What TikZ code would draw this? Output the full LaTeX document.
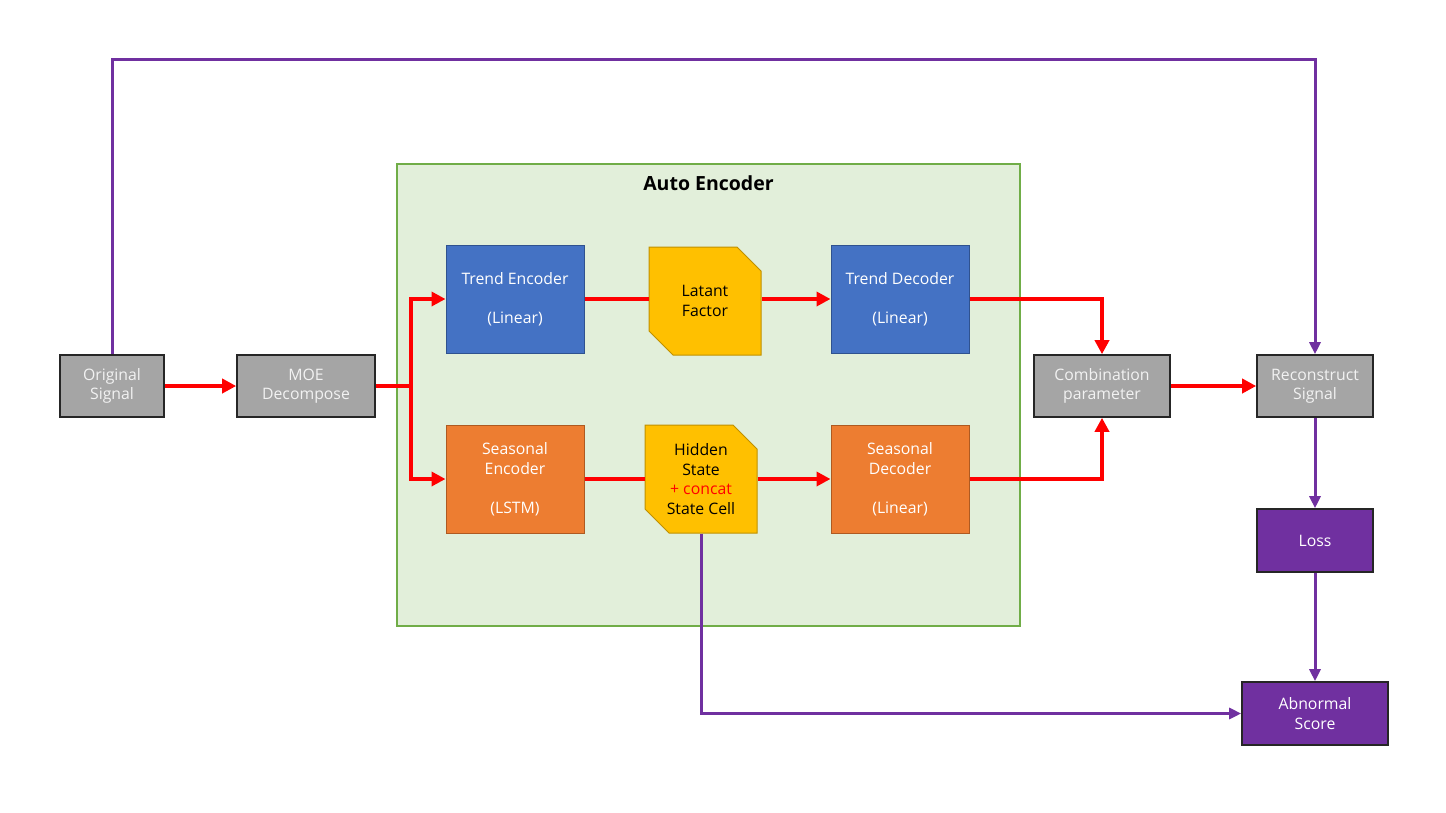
\documentclass[tikz,border=0pt]{standalone}
\usepackage{fontspec}
\setmainfont{Open Sans}
\usetikzlibrary{arrows.meta,shapes.misc,calc}
\definecolor{aefill}{HTML}{E2EFDA}
\definecolor{aeline}{HTML}{70AD47}
\definecolor{grayfill}{HTML}{A5A5A5}
\definecolor{grayline}{HTML}{262626}
\definecolor{bluefill}{HTML}{4472C4}
\definecolor{blueline}{HTML}{2F528F}
\definecolor{orangefill}{HTML}{ED7D31}
\definecolor{orangeline}{HTML}{AE5A21}
\definecolor{yellowfill}{HTML}{FFC000}
\definecolor{yellowline}{HTML}{BF9000}
\definecolor{purplefill}{HTML}{7030A0}
\definecolor{flowred}{HTML}{FF0000}
\definecolor{lighttext}{HTML}{F2F2F2}
\newcommand{\boxfont}{\fontsize{15.8pt}{19.5pt}\selectfont}
\begin{document}
\begin{tikzpicture}[x=1pt,y=-1pt,
  base/.style={rectangle,inner sep=0pt,align=center,font=\boxfont},
  graybox/.style={base,fill=grayfill,draw=grayline,line width=1.6pt,text=lighttext},
  bluebox/.style={base,fill=bluefill,draw=blueline,line width=1pt,text=white,
    minimum width=138pt,minimum height=108pt},
  orangebox/.style={base,fill=orangefill,draw=orangeline,line width=1pt,text=white,
    minimum width=138pt,minimum height=108pt},
  purplebox/.style={base,fill=purplefill,draw=grayline,line width=1.6pt,text=white},
  snipbox/.style={chamfered rectangle,chamfered rectangle corners={north east,south west},
    chamfered rectangle xsep=12pt,chamfered rectangle ysep=12pt,
    inner sep=0pt,align=center,font=\boxfont,fill=yellowfill,draw=yellowline,line width=1pt,
    minimum width=112pt,minimum height=108pt},
  redflow/.style={draw=flowred,line width=4pt,-{Triangle[length=14pt,width=14pt]}},
  redline/.style={draw=flowred,line width=4pt},
  purpleflow/.style={draw=purplefill,line width=3pt,-{Triangle[length=12pt,width=11pt]}}
]
\useasboundingbox (0,0) rectangle (1446,812);

% Auto encoder frame
\node[rectangle,fill=aefill,draw=aeline,line width=1.3pt,minimum width=623pt,minimum height=462pt,inner sep=0pt]
  (ae) at (708.5,395) {};
\node[font=\fontsize{19.5pt}{22pt}\selectfont\bfseries,anchor=north] (aetitle) at ($(ae.north)+(0,9)$) {Auto Encoder};

% Outer blocks
\node[graybox,minimum width=104pt,minimum height=62pt] (orig) at (112,386) {Original\\Signal};
\node[graybox,minimum width=138pt,minimum height=62pt] (moe) at (306,386) {MOE\\Decompose};
\node[graybox,minimum width=136pt,minimum height=62pt] (comb) at (1102,386) {Combination\\parameter};
\node[graybox,minimum width=116pt,minimum height=62pt] (recon) at (1315,386) {Reconstruct\\Signal};
\node[purplebox,minimum width=116pt,minimum height=63pt] (loss) at (1315,540.5) {Loss};
\node[purplebox,minimum width=146pt,minimum height=63pt] (abn) at (1315,713.5) {Abnormal\\Score};

% Encoder / decoder blocks
\node[bluebox] (te) at (515,299) {Trend Encoder\\[19.5pt](Linear)};
\node[bluebox] (td) at (900,299) {Trend Decoder\\[19.5pt](Linear)};
\node[orangebox] (se) at (515,479) {Seasonal\\Encoder\\[19.5pt](LSTM)};
\node[orangebox] (sd) at (900,479) {Seasonal\\Decoder\\[19.5pt](Linear)};
\node[snipbox] (lf) at (705,301) {Latant\\Factor};
\node[snipbox] (hs) at (701,479) {Hidden\\State\\\textcolor{flowred}{+ concat}\\State Cell};

% Red data flow
\coordinate (split) at (411,386);
\draw[redflow] (orig.east) -- (moe.west);
\draw[redline] (moe.east) -- (split);
\draw[redflow] (split) |- (te.west);
\draw[redflow] (split) |- (se.west);
\draw[redline] (te.east) -- (te.east -| lf.west);
\draw[redflow] (lf.east |- te.east) -- (td.west);
\draw[redline] (se.east) -- (hs.west);
\draw[redflow] (hs.east) -- (sd.west);
\draw[redflow] (td.east) -| (comb.north);
\draw[redflow] (sd.east) -| (comb.south);
\draw[redflow] (comb.east) -- (recon.west);

% Purple paths
\draw[purpleflow] (orig.north) -- (orig.north |- 0,59) -| (recon.north);
\draw[purpleflow] (recon.south) -- (loss.north);
\draw[purpleflow] (loss.south) -- (abn.north);
\draw[purpleflow] (hs.south) |- (abn.west);
\end{tikzpicture}
\end{document}
